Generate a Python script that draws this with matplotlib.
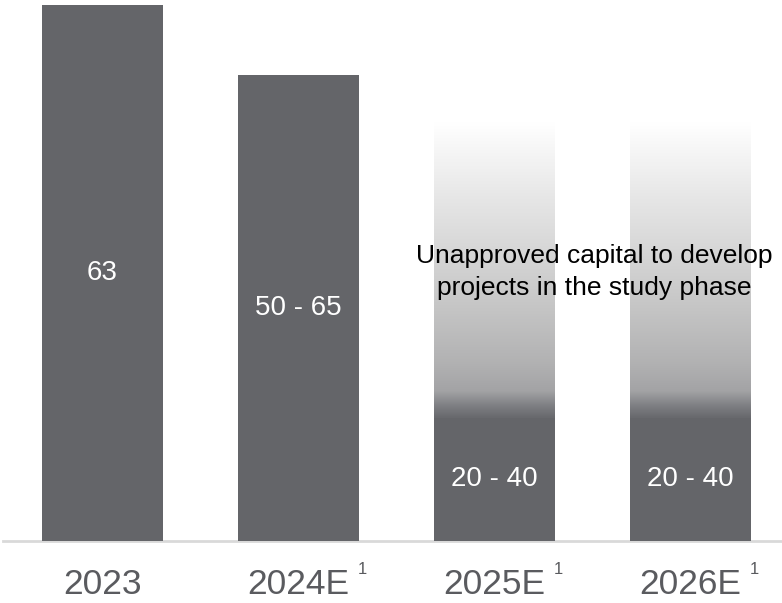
import numpy as np
import matplotlib
matplotlib.use("Agg")
import matplotlib.pyplot as plt
from matplotlib.colors import LinearSegmentedColormap

plt.rcParams['font.family'] = ['Liberation Sans', 'DejaVu Sans']

# data
years = ['2023', '2024E', '2025E', '2026E']
footnote = ['', '1', '1', '1']
solid = [63, 54.8, 14.5, 14.5]
unapproved_top = [0, 0, 49.2, 49.2]
bar_labels = ['63', '50 - 65', '20 - 40', '20 - 40']
note = 'Unapproved capital to develop\nprojects in the study phase'

bar_color = '#646569'
fade = LinearSegmentedColormap.from_list('fade', [
    (0.0, '#68696d'), (0.04, '#7e7f83'), (0.09, '#a3a3a5'),
    (0.18, '#b1b1b2'), (0.40, '#c8c8c8'), (0.74, '#e6e6e6'), (1.0, '#ffffff')])

fig = plt.figure(figsize=(7.82, 6.03), dpi=100)
ax = fig.add_axes([0, 62 / 603, 1, 536 / 603])
ax.set_xlim(-102.5 / 196, (782 - 102.5) / 196)
ax.set_ylim(0, 63)
ax.axis('off')

w = 121 / 196
x = np.arange(len(years))

grad = np.linspace(0, 1, 256).reshape(-1, 1)
for i in x:
    if unapproved_top[i] > solid[i]:
        ax.imshow(grad, cmap=fade, origin='lower', aspect='auto',
                  extent=(i - w / 2, i + w / 2, solid[i], unapproved_top[i]),
                  interpolation='bicubic', zorder=1)

ax.bar(x, solid, width=w, color=bar_color, zorder=2)

for i in x:
    ax.text(i, solid[i] / 2, bar_labels[i], color='white', fontsize=20,
            ha='center', va='center', zorder=3)
    ax.text(i, -6.2, years[i], color='#5a5b5f', fontsize=25.5,
            ha='center', va='baseline', clip_on=False)
    if footnote[i]:
        ax.text(i + 0.327, -3.3, footnote[i], color='#5a5b5f', fontsize=12,
                ha='center', va='center', clip_on=False)

ax.axhline(0, xmin=0.004, xmax=1, color='#d9d9d9', lw=2, zorder=0, clip_on=False)

ax.text(2.51, 31.65, note, color='black', fontsize=19, ha='center',
        va='center', linespacing=1.4, zorder=4)

fig.savefig('out.png', dpi=100)
